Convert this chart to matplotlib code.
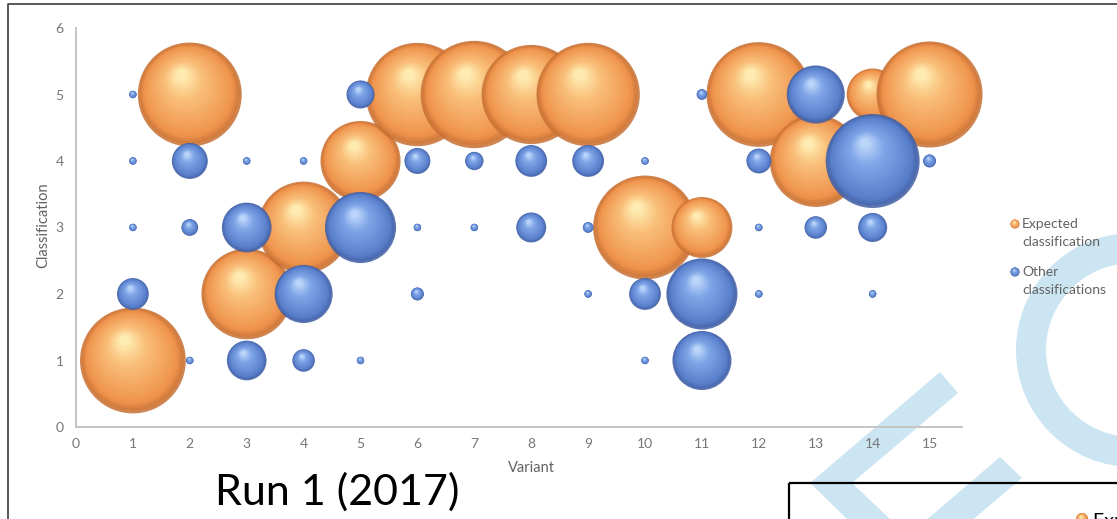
import numpy as np
import matplotlib
matplotlib.use("Agg")
import matplotlib.pyplot as plt
from matplotlib.patches import Polygon, Wedge, Rectangle

# ---------------------------------------------------------------- data
variants = list(range(1, 16))
expected_class = [1, 5, 2, 3, 4, 5, 5, 5, 5, 3, 3, 5, 4, 5, 5]
expected_count = [199, 192, 146, 150, 114, 190, 205, 175, 190, 192, 66, 195, 150, 48, 200]

other_variant = [1, 1, 1, 1, 2, 2, 2, 3, 3, 3, 4, 4, 4, 5, 5, 5, 6, 6, 6, 7, 7,
                 8, 8, 9, 9, 9, 10, 10, 10, 11, 11, 11, 12, 12, 12, 13, 13,
                 14, 14, 14, 15]
other_class = [5, 4, 3, 2, 4, 3, 1, 4, 3, 1, 4, 2, 1, 5, 3, 1, 4, 3, 2, 4, 3,
               4, 3, 4, 3, 2, 4, 2, 1, 5, 2, 1, 4, 3, 2, 5, 3,
               4, 3, 2, 4]
other_count = [1, 1, 1, 18, 23, 5, 1, 1, 44, 28, 1, 60, 9, 14, 90, 1, 12, 1, 3, 6, 1,
               18, 16, 18, 2, 1, 1, 18, 1, 2, 90, 62, 11, 1, 1, 60, 9,
               157, 15, 1, 3]

x_ticks = list(range(0, 16))
y_ticks = list(range(0, 7))
series_labels = ["Expected\nclassification", "Other\nclassifications"]
title_text = "Run 1 (2017)"

# ---------------------------------------------------------------- style
W, H, DPI = 1117, 519, 100
BUBBLE_PX = 7.5            # bubble diameter in px for a count of 1 (area scaling)
ORANGE = dict(edge=(0.78, 0.44, 0.20), body=(0.94, 0.58, 0.30),
              light=(0.98, 0.75, 0.48), spot=(1.00, 0.93, 0.70))
BLUE = dict(edge=(0.26, 0.37, 0.64), body=(0.35, 0.50, 0.80),
            light=(0.50, 0.65, 0.91), spot=(0.74, 0.84, 0.98))
TICK_GREY = "#767676"
TEXT_GREY = "#626262"
WATERMARK = "#cce5f2"
FONT = "Lato"

plt.rcParams["font.family"] = [FONT, "DejaVu Sans"]


def shade_colour(pal, t, alpha):
    stops = [(0.0, pal["edge"]), (0.13, pal["body"]), (0.68, pal["light"]), (1.0, pal["spot"])]
    for (t0, c0), (t1, c1) in zip(stops[:-1], stops[1:]):
        if t <= t1:
            u = (t - t0) / (t1 - t0)
            c = [a + (b - a) * u for a, b in zip(c0, c1)]
            return (*c, alpha)
    return (*stops[-1][1], alpha)


def draw_sphere(ax, x, y, diam_px, pal, alpha=0.85, z=2, layers=26):
    """Glossy bubble: concentric shaded discs drifting toward an upper-left highlight."""
    cx, cy = ax.transData.transform((x, y))
    hx, hy = -0.09 * diam_px, 0.21 * diam_px
    pts, sizes, cols = [], [], []
    for i in range(layers):
        t = i / (layers - 1)
        f = 1.0 - 0.9 * t
        pts.append((cx + (1 - f) * hx, cy + (1 - f) * hy))
        sizes.append((f * diam_px * 72.0 / DPI) ** 2)
        cols.append(shade_colour(pal, t, alpha))
    data = ax.transData.inverted().transform(np.array(pts))
    ax.scatter(data[:, 0], data[:, 1], s=sizes, c=cols, linewidths=0,
               zorder=z, clip_on=False)


fig = plt.figure(figsize=(W / DPI, H / DPI), dpi=DPI)

# ------------------------------------------------ slide background layer
bg = fig.add_axes([0, 0, 1, 1], zorder=0)
bg.set_xlim(0, W)
bg.set_ylim(H, 0)
bg.axis("off")

bg.add_patch(Wedge((1133, 350), 117, 0, 360, width=30, color=WATERMARK, lw=0, zorder=1))
bg.add_patch(Polygon([(940, 372), (958, 393), (852, 483), (890, 519), (890, 530),
                      (847, 530), (847, 519), (810, 483)],
                     closed=True, color=WATERMARK, lw=0, zorder=1))
bg.add_patch(Polygon([(1000, 457), (1022, 478), (970, 522), (924, 522)],
                     closed=True, color=WATERMARK, lw=0, zorder=1))

bg.plot([8, 8, W + 5], [H + 5, 4, 4], color="#3c3c3c", lw=1.2, zorder=5)
bg.add_patch(Rectangle((789, 483), 400, 100, fill=False, ec="black", lw=1.6, zorder=5))
bg.text(215, 505, title_text, fontsize=31, color="black", ha="left", va="baseline", zorder=5)
draw_sphere(bg, 1082, 519, 12, ORANGE, alpha=1.0, z=6)
bg.text(1093, 527, "Expected classification", fontsize=14, color="black",
        ha="left", va="baseline", zorder=6)

# ------------------------------------------------ bubble chart
ax = fig.add_axes([76 / W, (H - 427) / H, (962 - 76) / W, (427 - 28) / H], zorder=2)
ax.set_facecolor("none")
ax.set_xlim(0, 15.57)
ax.set_ylim(0, 6)
ax.set_xticks(x_ticks)
ax.set_yticks(y_ticks)
ax.tick_params(length=0, colors=TICK_GREY, labelsize=10)
ax.tick_params(axis="x", pad=8)
ax.tick_params(axis="y", pad=9)
for side in ("top", "right"):
    ax.spines[side].set_visible(False)
for side in ("left", "bottom"):
    ax.spines[side].set_color("#c4c4c4")
    ax.spines[side].set_linewidth(1.4)
ax.set_xlabel("Variant", fontsize=10.5, color=TEXT_GREY)
ax.set_ylabel("Classification", fontsize=10.5, color=TEXT_GREY)
ax.xaxis.set_label_coords((531 - 76) / 886, (427 - 461) / 399)
ax.yaxis.set_label_coords((50 - 76) / 886, (427 - 225) / 399)

for v, c, n in zip(variants, expected_class, expected_count):
    draw_sphere(ax, v, c, BUBBLE_PX * np.sqrt(n), ORANGE, z=3)
for v, c, n in zip(other_variant, other_class, other_count):
    draw_sphere(ax, v, c, BUBBLE_PX * np.sqrt(n), BLUE, z=4)

# ------------------------------------------------ legend
for (ly, pal, label) in ((224, ORANGE, series_labels[0]), (272, BLUE, series_labels[1])):
    draw_sphere(bg, 1015, ly, 9, pal, alpha=1.0, z=3)
    first, second = label.split("\n")
    bg.text(1022, ly, first, fontsize=10, color=TEXT_GREY, ha="left", va="center", zorder=3)
    bg.text(1022, ly + 18, second, fontsize=10, color=TEXT_GREY, ha="left", va="center", zorder=3)

fig.savefig("out.png", dpi=DPI, facecolor="white")
